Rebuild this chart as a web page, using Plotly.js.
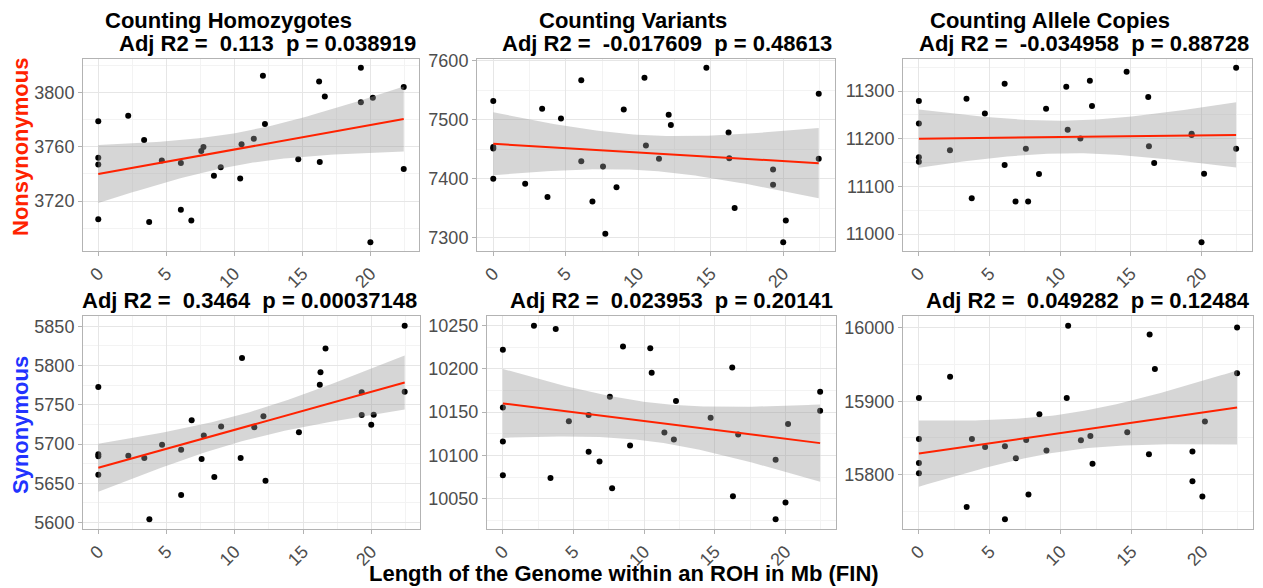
<!DOCTYPE html>
<html>
<head>
<meta charset="utf-8">
<script src="https://cdn.plot.ly/plotly-3.0.1.min.js"></script>
<style>html,body{margin:0;padding:0;background:#fff;}#chart{width:1263px;height:588px;}</style>
</head>
<body>
<div id="chart"></div>
<script>
// Shared x: length of genome within ROH (Mb), one value per individual
const roh = [0,0,0,0,2.2,3.37,3.74,4.67,6.07,6.07,6.84,7.57,7.73,8.5,9.0,10.43,10.53,11.43,12.1,12.25,14.7,16.23,16.28,16.65,19.3,19.3,20.0,20.18,22.45,22.45];

const nonsynHom = [3779,3752,3747,3706.5,3783,3765,3704.5,3750,3748,3713.6,3705.5,3757,3760,3738.7,3745,3736.7,3762,3766,3812.6,3777,3750.8,3808.4,3748.8,3797.3,3818.5,3793,3689.5,3796.3,3804.2,3743.6];
const nonsynVar = [7531.6,7453.7,7451.4,7400,7391.5,7518.6,7369.5,7502.3,7566.7,7429.9,7361.6,7421,7307.3,7385.9,7517.5,7571.2,7456.5,7434,7508.5,7491,7588,7478.5,7435,7350.8,7415.8,7390,7292.7,7329.4,7544,7434];
const nonsynAllele = [11279,11232,11161.5,11151.7,11176,11284,11075.5,11253,11315.4,11144.8,11068.5,11179,11068.5,11125.9,11263,11309,11218.9,11200.7,11321.7,11269,11340.6,11287.4,11184.6,11149,11210.5,11208,10983,11126.6,11349,11179];
const synHom = [5772.8,5686.8,5684.3,5660.7,5685,5682,5604,5699,5692.7,5635,5730.3,5681,5710.9,5658,5722.3,5682,5809.5,5721.4,5735.3,5653,5715,5775.4,5791.4,5821.8,5766,5737,5724.4,5737.4,5850.8,5766.5];
const synVar = [10221.8,10155.3,10116,10077,10249.6,10074,10245.8,10139.3,10146.6,10104.2,10093,10167.6,10062.2,10225.6,10111.5,10223.7,10195.4,10126.3,10118.3,10162.6,10143.5,10201.5,10053,10124,10095,10026.3,10045.8,10136.3,10173.3,10151.5];
const synAllele = [15904.5,15848.6,15815.8,15801.8,15933.3,15755.9,15848.6,15837.8,15838.7,15739.2,15822.5,15847.3,15773,15882.4,15832.9,15904.5,16003,15846.8,15852.7,15814.9,15857.7,15827.9,15991,15944.1,15831.5,15791,15770.3,15872.5,16000.5,15938.3];

const colTitles = ["Counting Homozygotes", "Counting Variants", "Counting Allele Copies"];
const statLabels = [
  "Adj R2 =  0.113  p = 0.038919",
  "Adj R2 =  -0.017609  p = 0.48613",
  "Adj R2 =  -0.034958  p = 0.88728",
  "Adj R2 =  0.3464  p = 0.00037148",
  "Adj R2 =  0.023953  p = 0.20141",
  "Adj R2 =  0.049282  p = 0.12484"
];
const rowTitles = ["Nonsynonymous", "Synonymous"];
const xTitle = "Length of the Genome within an ROH in Mb (FIN)";
const yDticks = [40, 100, 100, 50, 50, 100];

const series = [nonsynHom, nonsynVar, nonsynAllele, synHom, synVar, synAllele];

// layout geometry (pixels)
const W = 1263, H = 588;
const panelX = [[83,419],[477,835],[903,1252],[83,420],[487,836],[903,1253]];
const panelY = [[59,251],[59,251],[59,251],[316,529],[316,529],[316,529]];
const px = v => v / W;
const py = v => 1 - v / H;

function lmBand(x, y) {
  const n = x.length;
  const mx = x.reduce((a,b)=>a+b,0)/n, my = y.reduce((a,b)=>a+b,0)/n;
  let sxx=0, sxy=0;
  for (let i=0;i<n;i++){ sxx+=(x[i]-mx)**2; sxy+=(x[i]-mx)*(y[i]-my); }
  const b = sxy/sxx, a = my - b*mx;
  let sse=0;
  for (let i=0;i<n;i++){ sse += (y[i]-a-b*x[i])**2; }
  const s = Math.sqrt(sse/(n-2));
  const t = 2.0484; // qt(0.975, 28)
  const xmin = Math.min(...x), xmax = Math.max(...x);
  const gx=[], fit=[], lo=[], hi=[];
  for (let k=0;k<80;k++){
    const xv = xmin + (xmax-xmin)*k/79;
    const f = a + b*xv;
    const se = s*Math.sqrt(1/n + (xv-mx)**2/sxx);
    gx.push(xv); fit.push(f); lo.push(f - t*se); hi.push(f + t*se);
  }
  return {gx, fit, lo, hi};
}

function expRange(arr) {
  const mn = Math.min(...arr), mx = Math.max(...arr);
  const d = (mx - mn) * 0.05;
  return [mn - d, mx + d];
}

const font = "Liberation Sans, Arial, sans-serif";
const traces = [];
const layout = {
  width: W, height: H,
  margin: {l:0, r:0, t:0, b:0},
  paper_bgcolor: "#fff", plot_bgcolor: "#fff",
  showlegend: false,
  font: {family: font},
  annotations: [],
  shapes: []
};

for (let p = 0; p < 6; p++) {
  const suf = p === 0 ? "" : String(p+1);
  const xa = "x" + suf, ya = "y" + suf;
  const y = series[p];
  const band = lmBand(roh, y);
  traces.push({
    x: roh, y: y, xaxis: xa, yaxis: ya, type: "scatter", mode: "markers",
    marker: {color: "#000", size: 6}, hoverinfo: "skip"
  });
  traces.push({
    x: band.gx.concat(band.gx.slice().reverse()),
    y: band.hi.concat(band.lo.slice().reverse()),
    xaxis: xa, yaxis: ya, type: "scatter", mode: "lines", fill: "toself",
    fillcolor: "rgba(153,153,153,0.4)", line: {width: 0}, hoverinfo: "skip"
  });
  traces.push({
    x: band.gx, y: band.fit, xaxis: xa, yaxis: ya, type: "scatter", mode: "lines",
    line: {color: "#ff2200", width: 2}, hoverinfo: "skip"
  });
  const common = {
    showline: true, linecolor: "#b3b3b3", linewidth: 1, mirror: true,
    showgrid: true, gridcolor: "#e6e6e6", gridwidth: 1,
    zeroline: false, ticks: "outside", ticklen: 4, tickcolor: "#b3b3b3",
    tickfont: {family: font, size: 18, color: "#4d4d4d"}
  };
  layout["xaxis" + suf] = Object.assign({}, common, {
    domain: [px(panelX[p][0]), px(panelX[p][1])],
    anchor: ya, range: expRange(roh), tick0: 0, dtick: 5, tickangle: -45,
    minor: {dtick: 2.5, showgrid: true, gridcolor: "#f3f3f3", ticklen: 0}
  });
  layout["yaxis" + suf] = Object.assign({}, common, {
    domain: [py(panelY[p][1]), py(panelY[p][0])],
    anchor: xa, range: expRange(y), tick0: 0, dtick: yDticks[p], tickformat: "d",
    minor: {dtick: yDticks[p]/2, showgrid: true, gridcolor: "#f3f3f3", ticklen: 0}
  });
  // stat line of title, right-aligned near the panel's right edge
  const statY = p < 3 ? 43 : 300;
  layout.annotations.push({
    xref: "paper", yref: "paper", x: px(panelX[p][1] - 1), y: py(statY),
    xanchor: "right", yanchor: "middle", showarrow: false,
    text: "<b>" + statLabels[p].replace(/ /g, "\u00a0") + "</b>",
    font: {family: font, size: 22, color: "#000"}
  });
}

const colCenters = [228, 632.5, 1050];
for (let c = 0; c < 3; c++) {
  layout.annotations.push({
    xref: "paper", yref: "paper", x: px(colCenters[c]), y: py(20),
    xanchor: "center", yanchor: "middle", showarrow: false,
    text: "<b>" + colTitles[c] + "</b>",
    font: {family: font, size: 22, color: "#000"}
  });
}

const rowColors = ["#ff2200", "#2233ff"];
const rowCenters = [147, 425];
for (let r = 0; r < 2; r++) {
  layout.annotations.push({
    xref: "paper", yref: "paper", x: px(20), y: py(rowCenters[r]),
    xanchor: "center", yanchor: "middle", showarrow: false, textangle: -90,
    text: "<b>" + rowTitles[r] + "</b>",
    font: {family: font, size: 22, color: rowColors[r]}
  });
}

layout.annotations.push({
  xref: "paper", yref: "paper", x: px(624), y: py(573.5),
  xanchor: "center", yanchor: "middle", showarrow: false,
  text: "<b>" + xTitle + "</b>",
  font: {family: font, size: 22, color: "#000"}
});

Plotly.newPlot("chart", traces, layout, {staticPlot: true, displayModeBar: false});
</script>
</body>
</html>
